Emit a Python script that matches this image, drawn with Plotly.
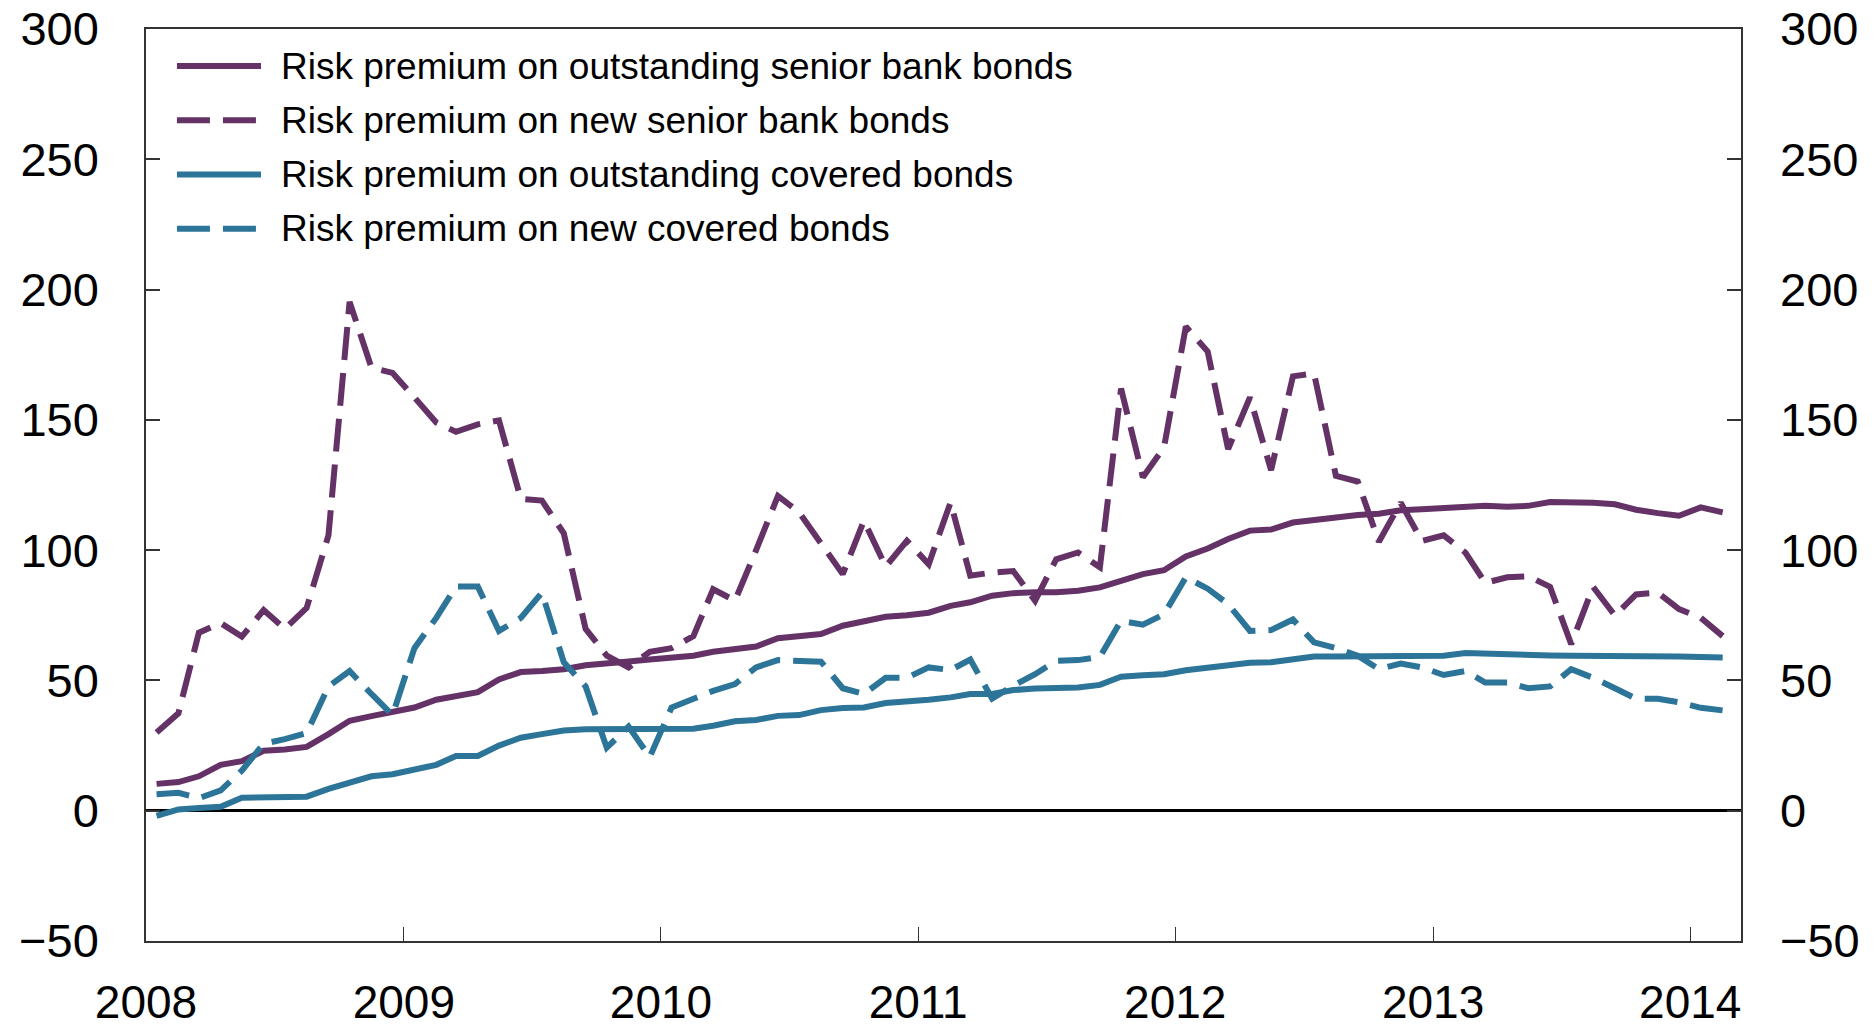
import pandas as pd
import plotly.graph_objects as go

# ---- data (monthly, Jan 2008 - Feb 2014), basis points ----
start_month = "2008-01-01"
n_months = 74

outstanding_senior = [
    10.3, 11, 13.2, 17.6, 19, 23, 23.5, 24.5, 29.4, 34.5,
    36.3, 38.2, 39.6, 42.6, 44, 45.5, 50.4, 53.2, 53.6, 54.3,
    55.8, 56.8, 57.3, 58, 58.7, 59.5, 61, 62, 63, 66.2,
    67, 67.8, 71, 72.6, 74.4, 75, 76, 78.6, 80, 82.5,
    83.5, 83.8, 83.8, 84.4, 85.7, 88.2, 90.8, 92.3, 97.6, 100.6,
    104.3, 107.5, 107.9, 110.6, 111.6, 112.6, 113.5, 114, 115.3, 115.7,
    116, 116.7, 117, 116.7, 117, 118.5, 118.5, 118.2, 117.6, 115.5,
    114.2, 113.2, 116.4, 114.5,
]

new_senior = [
    30, 37.4, 68.3, 72, 66.8, 77, 69.8, 77.8, 105.7, 195.3,
    170, 168, 158.6, 149, 145.4, 148.3, 149.8, 119.7, 119, 106.5,
    69.8, 59.5, 55, 61, 62.4, 67, 85, 80.6, 100, 120.8,
    114.5, 103, 90.8, 111.3, 93.7, 103.6, 94.6, 118.3, 90.2, 91.4,
    92, 80.6, 96.5, 99.1, 93.4, 162, 128, 139.4, 185.8, 176.2,
    138.8, 158.6, 130.7, 166.7, 167.8, 128.5, 126.3, 103.2, 118.2, 103.5,
    105.7, 99, 87.4, 89.6, 90, 85.9, 63.9, 85.9, 74.9, 83,
    83.7, 77.4, 74, 67,
]

outstanding_covered = [
    -2, 0.5, 1, 1.5, 5, 5.2, 5.3, 5.4, 8.4, 11,
    13.2, 14, 16, 17.6, 21, 21, 25, 28, 29.4, 30.8,
    31.3, 31.3, 31, 31, 31, 31.5, 32.6, 34.3, 34.8, 36.4,
    36.7, 38.6, 39.4, 39.6, 41.3, 41.8, 42.6, 43.5, 44.8, 44.8,
    46.3, 46.9, 47, 47.3, 48.3, 51.4, 52, 52.4, 53.9, 55,
    56, 56.8, 57, 58, 59.2, 59.2, 59.2, 59.3, 59.3, 59.3,
    59.5, 60.5, 60.2, 60, 59.8, 59.6, 59.5, 59.5, 59.5, 59.6,
    59.3, 59.2, 59, 58.8,
]

new_covered = [
    6.3, 6.9, 4.8, 7.8, 15.4, 25.7, 27.5, 29.8, 47.7, 53.6,
    44.8, 36.7, 62.4, 74, 86, 86, 69, 74, 83.7, 57,
    47.7, 24.2, 32.3, 20.6, 39.6, 43, 46, 48.6, 55, 57.8,
    57.5, 57.2, 47, 44.8, 51, 51, 55, 54, 58, 43,
    48, 52.4, 57.5, 57.8, 59, 72.9, 71.4, 75.4, 89.6, 85.2,
    79.3, 69, 69.3, 73.4, 64.6, 62.4, 59.5, 54.3, 56.5, 55,
    52.1, 53.6, 49.2, 49.2, 47, 47.7, 54.3, 51, 47, 43,
    43, 41.6, 39.5, 38.5,
]

series_names = [
    "Risk premium on outstanding senior bank bonds",
    "Risk premium on new senior bank bonds",
    "Risk premium on outstanding covered bonds",
    "Risk premium on new covered bonds",
]

tick_years = [2008, 2009, 2010, 2011, 2012, 2013, 2014]
y_ticks = [-50, 0, 50, 100, 150, 200, 250, 300]

# ---- styling ----
PURPLE = "#643266"
BLUE = "#2c7599"
DASH = "33px,13px"
FONT = "Liberation Sans, Arial, sans-serif"
LW = 6

dates = pd.date_range(start_month, periods=n_months, freq="MS") + pd.Timedelta(days=15)

series = [
    (outstanding_senior, PURPLE, "solid"),
    (new_senior, PURPLE, DASH),
    (outstanding_covered, BLUE, "solid"),
    (new_covered, BLUE, DASH),
]

fig = go.Figure()
for i, (vals, color, dash) in enumerate(series):
    fig.add_trace(go.Scatter(
        x=dates, y=vals, mode="lines", name=series_names[i],
        line=dict(color=color, width=LW, dash=dash),
        showlegend=False, hoverinfo="skip",
        yaxis="y2" if i == 3 else "y",
    ))

# manual legend (long line samples as in reference)
leg_x0, leg_x1, leg_tx = 0.0194, 0.0721, 0.0834
leg_y0, leg_dy = 0.9594, 0.0595
shapes = []
annotations = []
for k, (name, (_, color, dash)) in enumerate(zip(series_names, series)):
    yy = leg_y0 - k * leg_dy
    shapes.append(dict(type="line", xref="paper", yref="paper",
                       x0=leg_x0, x1=leg_x1, y0=yy, y1=yy,
                       line=dict(color=color, width=LW, dash=dash)))
    annotations.append(dict(xref="paper", yref="paper", x=leg_tx, y=yy,
                            xanchor="left", yanchor="middle", showarrow=False,
                            text=name, font=dict(size=37, color="black", family=FONT)))

yr = [-50, 300]
xr = ["2008-01-01", "2014-03-14"]
AXC = "#333333"

fig.update_layout(
    width=1875, height=1027,
    margin=dict(l=146, r=134, t=29, b=86),
    paper_bgcolor="white", plot_bgcolor="white",
    font=dict(family=FONT, color="black"),
    showlegend=False,
    shapes=shapes, annotations=annotations,
    xaxis=dict(
        type="date", range=xr, automargin=False,
        tickvals=[f"{y}-01-01" for y in tick_years],
        ticktext=[str(y) for y in tick_years],
        ticks="inside", ticklen=14, tickwidth=1, tickcolor=AXC,
        showline=True, linecolor=AXC, linewidth=2, mirror=True,
        showgrid=False, zeroline=False, ticklabeloverflow="allow",
        tickfont=dict(size=46), ticklabelstandoff=20,
    ),
    yaxis=dict(
        range=yr, tickvals=y_ticks, automargin=False,
        ticks="inside", ticklen=14, tickwidth=1.5, tickcolor=AXC,
        showline=True, linecolor=AXC, linewidth=1.5, mirror=True,
        showgrid=False, zeroline=True, zerolinecolor="black", zerolinewidth=2.5,
        ticklabeloverflow="allow",
        tickfont=dict(size=47), ticklabelstandoff=36,
    ),
    yaxis2=dict(
        range=yr, tickvals=y_ticks, overlaying="y", side="right", automargin=False,
        ticks="inside", ticklen=14, tickwidth=1.5, tickcolor=AXC,
        showline=False, showgrid=False, zeroline=False,
        ticklabeloverflow="allow",
        tickfont=dict(size=47), ticklabelstandoff=38,
    ),
)

# remove the default 8px page margin so the figure fills the window exactly
fig.write_html(
    "out.html",
    config={"displayModeBar": False},
    post_script="document.body.style.margin='0';document.body.style.overflow='hidden';",
)
